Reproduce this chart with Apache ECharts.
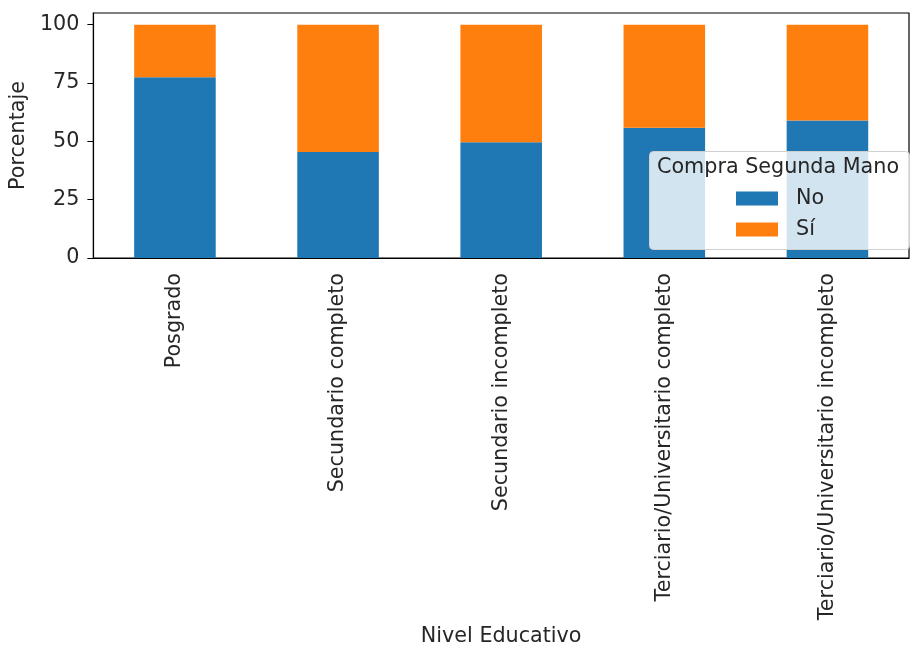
<!DOCTYPE html>
<html>
<head>
<meta charset="utf-8">
<script src="https://cdn.jsdelivr.net/npm/echarts@6/dist/echarts.min.js"></script>
<style>html,body{margin:0;padding:0;background:#fff}#c{width:911px;height:648px}</style>
</head>
<body>
<div id="c"></div>
<script>
const categories = ["Posgrado", "Secundario completo", "Secundario incompleto", "Terciario/Universitario completo", "Terciario/Universitario incompleto"];
const noValues = [77.5, 45.4, 49.6, 55.8, 58.9];
const siValues = [22.5, 54.6, 50.4, 44.2, 41.1];
const yTicks = [0, 25, 50, 75, 100];
const seriesNames = ["No", "Sí"];
const legendTitle = "Compra Segunda Mano";

const FONT = "DejaVu Sans";
const FS = 20.7;
const chart = echarts.init(document.getElementById('c'), null, {renderer: 'canvas'});
chart.setOption({
  animation: false,
  textStyle: {fontFamily: FONT},
  grid: {left: 92, right: 2, top: 13, bottom: 389, show: true, borderColor: '#000', borderWidth: 1.2, backgroundColor: 'transparent'},
  xAxis: {
    type: 'category',
    data: categories,
    axisLine: {lineStyle: {color: '#000', width: 1.2}},
    axisTick: {alignWithLabel: true, length: 6, lineStyle: {color: '#000'}},
    axisLabel: {rotate: 90, fontSize: FS, color: '#262626', fontFamily: FONT, margin: 15, interval: 0},
    name: 'Nivel Educativo',
    nameLocation: 'middle',
    nameGap: 368,
    nameTextStyle: {fontSize: FS, color: '#262626', fontFamily: FONT}
  },
  yAxis: {
    type: 'value',
    min: 0, max: 105,
    axisLine: {show: true, lineStyle: {color: '#000', width: 1.2}},
    axisTick: {show: true, length: 6, customValues: yTicks, lineStyle: {color: '#000'}},
    axisLabel: {fontSize: FS, color: '#262626', fontFamily: FONT, margin: 14, customValues: yTicks},
    splitLine: {show: false},
    name: 'Porcentaje',
    nameLocation: 'middle',
    nameGap: 62,
    nameTextStyle: {fontSize: FS, color: '#262626', fontFamily: FONT}
  },
  legend: {
    orient: 'vertical',
    left: 736, top: 188,
    itemWidth: 42, itemHeight: 14, itemGap: 10,
    icon: 'rect',
    padding: 0,
    textStyle: {fontSize: FS, color: '#262626', fontFamily: FONT, padding: [0, 0, 0, 13]},
    data: seriesNames,
    z: 20
  },
  graphic: [
    {type: 'rect', left: 649, top: 151, shape: {width: 260, height: 98, r: 4}, style: {fill: 'rgba(255,255,255,0.8)', stroke: '#d0d0d0', lineWidth: 1}, z: 10},
    {type: 'text', left: 657, top: 157, style: {text: legendTitle, font: FS + 'px "DejaVu Sans"', fill: '#262626'}, z: 11}
  ],
  series: [
    {name: seriesNames[0], type: 'bar', stack: 'total', data: noValues, barWidth: '50%', itemStyle: {color: '#1f77b4'}},
    {name: seriesNames[1], type: 'bar', stack: 'total', data: siValues, barWidth: '50%', itemStyle: {color: '#ff7f0e'}}
  ]
});
</script>
</body>
</html>
